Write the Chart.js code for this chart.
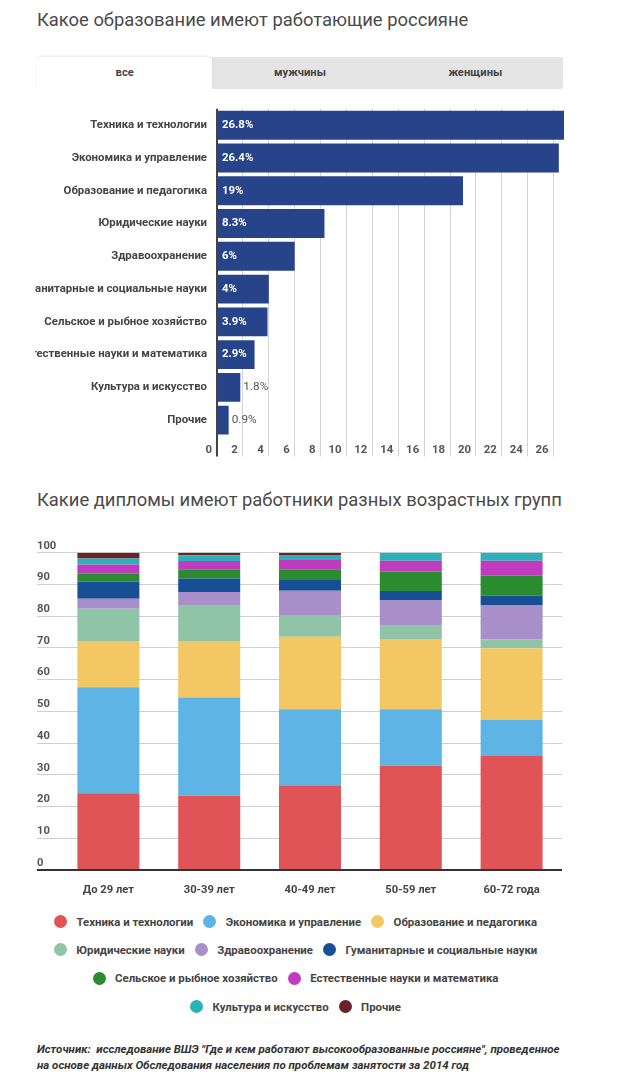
<!DOCTYPE html>
<html><head><meta charset="utf-8">
<script src="https://cdn.jsdelivr.net/npm/chart.js@4.4.1/dist/chart.umd.min.js"></script>
<style>
html,body{margin:0;padding:0;background:#fff;}
body{width:620px;height:1078px;position:relative;overflow:hidden;font-family:Roboto,'Noto Sans',sans-serif;}
.title{position:absolute;left:37px;font-size:18.4px;color:#4a4a4a;white-space:nowrap;line-height:22px;}
#t1{top:9px;} #t2{top:489px;}
.tabs{position:absolute;left:37px;top:57px;width:526px;height:32px;background:#e4e4e4;border-radius:3px;display:flex;}
.tab{flex:1;text-align:center;font-size:11.2px;font-weight:bold;color:#444;line-height:32px;}
.tab.active{background:#fff;border-radius:3px 3px 0 0;box-shadow:0 -1px 2px rgba(0,0,0,0.08);}
#c1{position:absolute;left:35px;top:92px;}
#c2{position:absolute;left:37px;top:530px;}
#legend{position:absolute;left:35px;top:907.5px;width:521px;display:flex;flex-wrap:wrap;justify-content:center;}
.li{display:flex;align-items:center;height:28.3px;margin:0 5px;font-size:11.4px;font-weight:bold;color:#444;white-space:nowrap;}
.dot{width:13px;height:13px;border-radius:50%;margin-right:9.5px;flex:none;}
#note{position:absolute;left:37px;top:1041px;font-size:11.5px;font-weight:bold;font-style:italic;color:#333;line-height:16.4px;white-space:pre;}
</style>
</head>
<body>
<div class="title" id="t1">Какое образование имеют работающие россияне</div>
<div class="tabs"><div class="tab active">все</div><div class="tab">мужчины</div><div class="tab">женщины</div></div>
<canvas id="c1" width="545" height="368"></canvas>
<div class="title" id="t2">Какие дипломы имеют работники разных возрастных групп</div>
<canvas id="c2" width="530" height="370"></canvas>
<div id="legend"></div>
<div id="note">Источник:  исследование ВШЭ "Где и кем работают высокообразованные россияне", проведенное
на основе данных Обследования населения по проблемам занятости за 2014 год</div>
<script>
// ---- Chart 1 data ----
const eduCategories = ['Техника и технологии','Экономика и управление','Образование и педагогика','Юридические науки','Здравоохранение','Гуманитарные и социальные науки','Сельское и рыбное хозяйство','Естественные науки и математика','Культура и искусство','Прочие'];
const eduShares = [26.8, 26.4, 19, 8.3, 6, 4, 3.9, 2.9, 1.8, 0.9];
const eduTickValues = [0,2,4,6,8,10,12,14,16,18,20,22,24,26];

// ---- Chart 2 data ----
const ageGroups = ['До 29 лет','30-39 лет','40-49 лет','50-59 лет','60-72 года'];
const fieldNames = ['Техника и технологии','Экономика и управление','Образование и педагогика','Юридические науки','Здравоохранение','Гуманитарные и социальные науки','Сельское и рыбное хозяйство','Естественные науки и математика','Культура и искусство','Прочие'];
const fieldColors = ['#e05356','#5eb4e4','#f3c764','#8fc5a6','#a88fca','#174f95','#2a8c2e','#c03cbf','#2bb1b8','#6a2227'];
const techShares   = [24.2, 23.4, 26.5, 32.9, 35.9];
const econShares   = [33.4, 31.0, 24.2, 17.8, 11.4];
const pedShares    = [14.3, 17.8, 22.8, 22.1, 22.6];
const lawShares    = [10.4, 11.3, 6.9, 4.4, 2.8];
const healthShares = [3.2, 4.1, 7.6, 7.9, 10.8];
const humShares    = [5.4, 4.3, 3.4, 2.8, 2.9];
const agriShares   = [2.5, 2.9, 3.4, 6.1, 6.3];
const sciShares    = [2.9, 2.6, 2.9, 3.5, 4.8];
const cultShares   = [1.9, 1.8, 1.6, 2.5, 2.5];
const otherShares  = [1.8, 0.8, 0.7, 0, 0];
const ageTickValues = [0,10,20,30,40,50,60,70,80,90,100];

const FONT = 'Roboto';
Chart.defaults.font.family = FONT;

const barLabels = {
  id: 'barLabels',
  afterDatasetsDraw(chart) {
    const ctx = chart.ctx;
    const meta = chart.getDatasetMeta(0);
    meta.data.forEach((bar, i) => {
      const txt = chart.data.datasets[0].data[i] + '%';
      ctx.save();
      ctx.font = 'bold 11.4px ' + FONT;
      ctx.textBaseline = 'middle';
      const w = ctx.measureText(txt).width;
      const barW = bar.x - bar.base;
      if (w + 8 <= barW) {
        ctx.fillStyle = '#fff';
        ctx.fillText(txt, bar.base + 4, bar.y);
      } else {
        ctx.font = '11.8px ' + FONT;
        ctx.fillStyle = '#555';
        ctx.fillText(txt, bar.x + 3, bar.y);
      }
      ctx.restore();
    });
  }
};

new Chart(document.getElementById('c1'), {
  type: 'bar',
  data: { labels: eduCategories, datasets: [{ data: eduShares, backgroundColor: '#27438a', barPercentage: 0.88, categoryPercentage: 1 }] },
  options: {
    responsive: false, animation: false, indexAxis: 'y',
    layout: { padding: { top: 0, right: 16, left: 0, bottom: 0 } },
    plugins: { legend: { display: false }, tooltip: { enabled: false } },
    scales: {
      x: {
        min: 0, max: 26.8,
        afterBuildTicks(s) { s.ticks = eduTickValues.map(v => ({ value: v })); },
        grid: {
          color: c => (c.tick && c.tick.value === 0) ? '#444' : '#d4d4d4',
          tickColor: c => (c.tick && c.tick.value === 0) ? '#444' : '#d4d4d4',
          lineWidth: c => (c.tick && c.tick.value === 0) ? 2 : 1,
          drawTicks: true, tickLength: 20
        },
        border: { display: false },
        ticks: { align: 'end', labelOffset: -5, padding: -13, color: '#555', font: { size: 11.4, weight: 'bold' } },
        afterFit(s) { s.height = 23.5; }
      },
      y: {
        grid: { display: false, drawTicks: false }, border: { display: false },
        ticks: { padding: 10, color: '#444', autoSkip: false, font: { size: 11.4, weight: 'bold' } },
        afterFit(s) { s.width = 182; }
      }
    }
  },
  plugins: [barLabels]
});

const seriesValues = [techShares, econShares, pedShares, lawShares, healthShares, humShares, agriShares, sciShares, cultShares, otherShares];
const zeroOr = (c, a, b) => (c.tick && c.tick.value === 0) ? a : b;
new Chart(document.getElementById('c2'), {
  type: 'bar',
  data: {
    labels: ageGroups,
    datasets: seriesValues.map((vals, i) => ({ label: fieldNames[i], data: vals, backgroundColor: fieldColors[i], barPercentage: 0.615, categoryPercentage: 1 }))
  },
  options: {
    responsive: false, animation: false,
    layout: { padding: { top: 22.7, right: 5, left: 0, bottom: 0 } },
    plugins: { legend: { display: false }, tooltip: { enabled: false } },
    scales: {
      x: {
        stacked: true, grid: { display: false }, border: { display: false },
        ticks: { padding: 5, color: '#444', font: { size: 11.2, weight: 'bold' } },
        afterFit(s) { s.height = 30; }
      },
      y: {
        stacked: true, min: 0, max: 100,
        afterBuildTicks(s) { s.ticks = ageTickValues.map(v => ({ value: v })); },
        grid: {
          color: c => zeroOr(c, '#333', '#cfcfcf'),
          tickColor: c => zeroOr(c, '#333', '#cfcfcf'),
          lineWidth: c => zeroOr(c, 2, 1),
          drawTicks: true, tickLength: 21
        },
        border: { display: false },
        ticks: { crossAlign: 'far', labelOffset: -7, padding: 0, color: '#555', font: { size: 11.2, weight: 'bold' } },
        afterFit(s) { s.width = 21; }
      }
    }
  }
});

// HTML legend built from the series names/colours
const lg = document.getElementById('legend');
fieldNames.forEach((n, i) => {
  const it = document.createElement('div'); it.className = 'li';
  const d = document.createElement('span'); d.className = 'dot'; d.style.background = fieldColors[i];
  it.appendChild(d); it.appendChild(document.createTextNode(n));
  lg.appendChild(it);
});
</script>
</body></html>
